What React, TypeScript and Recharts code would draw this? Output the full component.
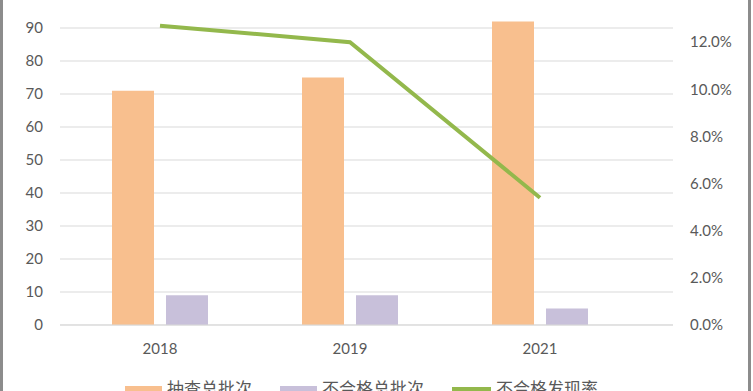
import {
  ComposedChart,
  Bar,
  Line,
  XAxis,
  YAxis,
  CartesianGrid,
  Legend,
} from "recharts";

const YEARS = ["2018", "2019", "2021"];
const TOTAL_BATCHES = [71, 75, 92];
const FAILED_BATCHES = [9, 9, 5];
const FAIL_RATE = [0.127, 0.12, 0.054];
const SERIES_NAMES = ["抽查总批次", "不合格总批次", "不合格发现率"];
const LEFT_TICKS = [0, 10, 20, 30, 40, 50, 60, 70, 80, 90, 100];
const RIGHT_TICKS = [0, 0.02, 0.04, 0.06, 0.08, 0.1, 0.12, 0.14];

const COLORS = ["#f8bf8e", "#c8c0da", "#93b84c"];
const AXIS_FONT = { fontSize: 15, fill: "#595959", fontFamily: "Lato, 'Open Sans', sans-serif" };

const data = YEARS.map((year, i) => ({
  year,
  total: TOTAL_BATCHES[i],
  failed: FAILED_BATCHES[i],
  rate: FAIL_RATE[i],
}));

function LegendContent() {
  return (
    <div
      style={{
        height: 40,
        display: "flex",
        alignItems: "center",
        gap: 28,
        paddingLeft: 125,
        paddingTop: 4,
        boxSizing: "border-box",
        fontFamily: "'Noto Sans CJK SC', sans-serif",
        fontSize: 17,
        color: "#595959",
      }}
    >
      {SERIES_NAMES.map((name, i) => (
        <div key={name} style={{ display: "flex", alignItems: "center" }}>
          <span
            style={{
              display: "inline-block",
              width: i === 2 ? 39 : 37,
              height: i === 2 ? 4 : 10,
              marginTop: i === 2 ? 4 : 8,
              background: COLORS[i],
              marginRight: 5,
            }}
          />
          <span>{name}</span>
        </div>
      ))}
    </div>
  );
}

export default function App() {
  return (
    <div
      style={{
        position: "absolute",
        left: 0,
        top: 0,
        width: 753,
        height: 391,
        overflow: "hidden",
        background: "#fff",
      }}
    >
      <div style={{ position: "absolute", left: 0, top: -25 }}>
        <ComposedChart
          width={753}
          height={430}
          data={data}
          margin={{ top: 20, right: 0, bottom: 0, left: 0 }}
          barSize={42}
          barGap={12}
        >
          <CartesianGrid vertical={false} stroke="#d9d9d9" yAxisId="left" />
          <XAxis
            dataKey="year"
            axisLine={{ stroke: "#d9d9d9" }}
            tickLine={false}
            tick={AXIS_FONT}
            tickMargin={12}
            height={40}
            padding={{ left: 5, right: 38 }}
          />
          <YAxis
            yAxisId="left"
            domain={[0, 100]}
            ticks={LEFT_TICKS}
            axisLine={false}
            tickLine={false}
            tick={AXIS_FONT}
            tickMargin={11}
            width={60}
          />
          <YAxis
            yAxisId="right"
            orientation="right"
            domain={[0, 0.14]}
            ticks={RIGHT_TICKS}
            axisLine={false}
            tickLine={false}
            tick={{ ...AXIS_FONT, textAnchor: "start" }}
            tickMargin={11}
            width={80}
            tickFormatter={(v: number) => `${(v * 100).toFixed(1)}%`}
          />
          <Legend verticalAlign="bottom" content={() => <LegendContent />} />
          <Bar yAxisId="left" dataKey="total" name={SERIES_NAMES[0]} fill={COLORS[0]} isAnimationActive={false} />
          <Bar yAxisId="left" dataKey="failed" name={SERIES_NAMES[1]} fill={COLORS[1]} isAnimationActive={false} />
          <Line
            yAxisId="right"
            dataKey="rate"
            name={SERIES_NAMES[2]}
            stroke={COLORS[2]}
            strokeWidth={4}
            dot={false}
            type="linear"
            isAnimationActive={false}
          />
        </ComposedChart>
      </div>
      <div style={{ position: "absolute", left: 0, top: 0, width: 3, height: 391, background: "#8c8c8c" }} />
      <div style={{ position: "absolute", left: 748, top: 0, width: 3, height: 391, background: "#8c8c8c" }} />
    </div>
  );
}
